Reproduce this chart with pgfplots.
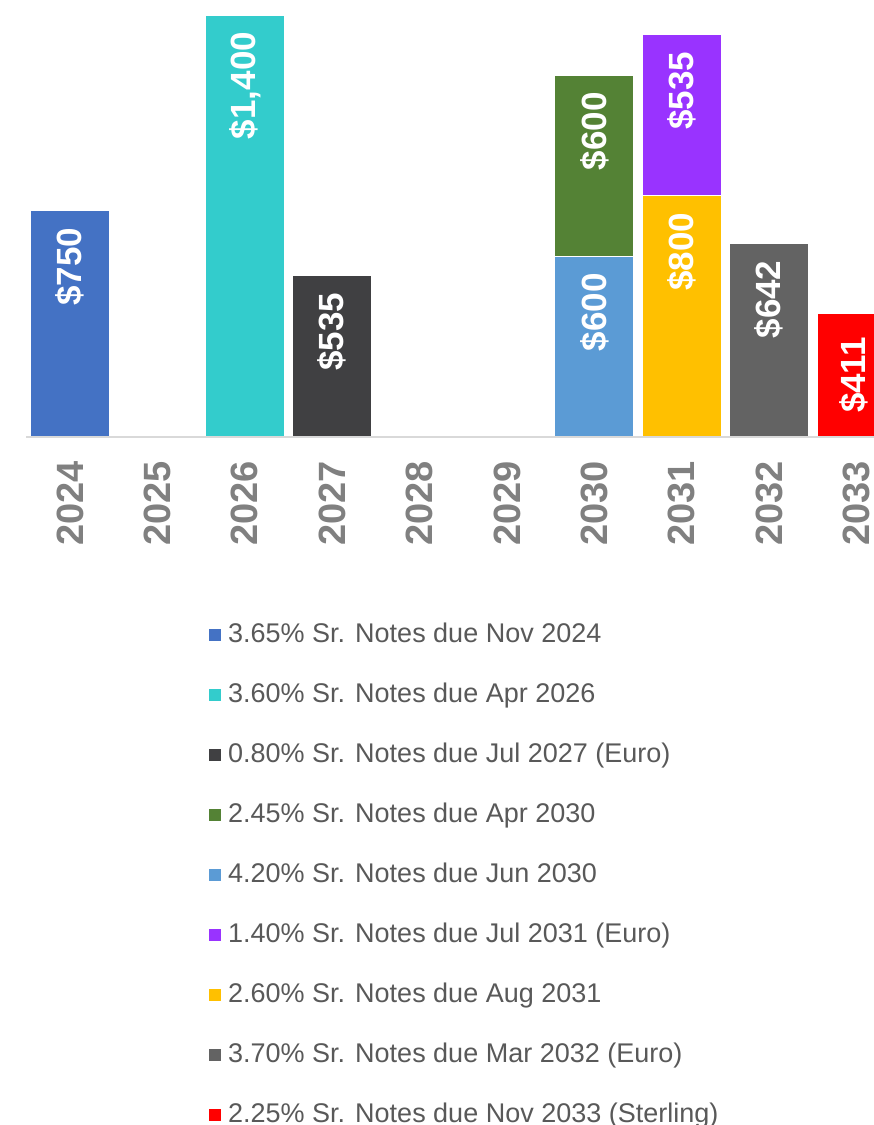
\documentclass[border=0pt]{standalone}
\usepackage{fontspec}
\setmainfont{Liberation Sans}
\usepackage{pgfplots}
\pgfplotsset{compat=1.18}
\definecolor{c1}{HTML}{4472C4}
\definecolor{c2}{HTML}{33CCCC}
\definecolor{c3}{HTML}{404042}
\definecolor{c4}{HTML}{548235}
\definecolor{c5}{HTML}{5B9BD5}
\definecolor{c6}{HTML}{9933FF}
\definecolor{c7}{HTML}{FFC000}
\definecolor{c8}{HTML}{636363}
\definecolor{c9}{HTML}{FF0000}
\definecolor{axisgray}{HTML}{D9D9D9}
\definecolor{tickgray}{HTML}{808080}
\definecolor{leggray}{HTML}{595959}
\begin{document}
\begin{tikzpicture}
\path[use as bounding box] (0,0) rectangle (874bp,1125bp);
\clip (0,0) rectangle (874bp,1125bp);
\fill[white] (0,0) rectangle (874bp,1125bp);
\begin{axis}[
  at={(26.3bp,688bp)}, anchor=south west, scale only axis,
  width=874bp, height=437bp,
  xmin=-0.5, xmax=9.5, ymin=0, ymax=1450,
  axis y line=none, axis x line*=bottom,
  x axis line style={draw=axisgray, line width=1.5bp, -},
  axis on top,
  xtick={0,1,2,3,4,5,6,7,8,9},
  xticklabels={2024,2025,2026,2027,2028,2029,2030,2031,2032,2033},
  major tick length=0pt,
  xticklabel style={rotate=90, anchor=east, inner sep=0pt, inner xsep=0pt, outer xsep=24bp,
    font=\bfseries\fontsize{38bp}{38bp}\selectfont, text=tickgray},
  ybar stacked, bar width=79bp,
  every axis plot/.append style={draw=white, line width=1bp},
  nodes near coords, point meta=explicit symbolic,
  every node near coord/.append style={rotate=90, anchor=east, inner sep=0pt, outer xsep=17bp,
    font=\bfseries\fontsize{35bp}{35bp}\selectfont, text=white},
  legend style={at={(0.2090,-0.4256)}, anchor=north west, draw=none, fill=none, inner sep=0pt,
    row sep=36bp, font=\fontsize{27bp}{27bp}\selectfont, text=leggray,
    nodes={inner sep=0pt, text height=19bp, text depth=5bp},
    /tikz/every odd column/.append style={column sep=7bp}},
  legend cell align=left,
  legend image code/.code={\fill[#1] (0bp,-6bp) rectangle (12bp,6bp);},
]
\addlegendimage{fill=c1, draw=none}\addlegendentry{3.65\% Sr. Notes due Nov 2024}
\addlegendimage{fill=c2, draw=none}\addlegendentry{3.60\% Sr. Notes due Apr 2026}
\addlegendimage{fill=c3, draw=none}\addlegendentry{0.80\% Sr. Notes due Jul 2027 (Euro)}
\addlegendimage{fill=c4, draw=none}\addlegendentry{2.45\% Sr. Notes due Apr 2030}
\addlegendimage{fill=c5, draw=none}\addlegendentry{4.20\% Sr. Notes due Jun 2030}
\addlegendimage{fill=c6, draw=none}\addlegendentry{1.40\% Sr. Notes due Jul 2031 (Euro)}
\addlegendimage{fill=c7, draw=none}\addlegendentry{2.60\% Sr. Notes due Aug 2031}
\addlegendimage{fill=c8, draw=none}\addlegendentry{3.70\% Sr. Notes due Mar 2032 (Euro)}
\addlegendimage{fill=c9, draw=none}\addlegendentry{2.25\% Sr. Notes due Nov 2033 (Sterling)}
% labels sit at the middle of each segment; shift them up by half the segment height
% 3.65% Nov 2024
\addplot[fill=c1, forget plot, every node near coord/.append style={xshift=113bp}] coordinates {(0,750)[\$750] (1,0)[] (2,0)[] (3,0)[] (4,0)[] (5,0)[] (6,0)[] (7,0)[] (8,0)[] (9,0)[]};
% 3.60% Apr 2026
\addplot[fill=c2, forget plot, every node near coord/.append style={xshift=211bp}] coordinates {(0,0)[] (1,0)[] (2,1400)[\$1,400] (3,0)[] (4,0)[] (5,0)[] (6,0)[] (7,0)[] (8,0)[] (9,0)[]};
% 0.80% Jul 2027
\addplot[fill=c3, forget plot, every node near coord/.append style={xshift=80.6bp}] coordinates {(0,0)[] (1,0)[] (2,0)[] (3,535)[\$535] (4,0)[] (5,0)[] (6,0)[] (7,0)[] (8,0)[] (9,0)[]};
% 4.20% Jun 2030 (bottom of 2030)
\addplot[fill=c5, forget plot, every node near coord/.append style={xshift=90.4bp}] coordinates {(0,0)[] (1,0)[] (2,0)[] (3,0)[] (4,0)[] (5,0)[] (6,600)[\$600] (7,0)[] (8,0)[] (9,0)[]};
% 2.45% Apr 2030 (top of 2030)
\addplot[fill=c4, forget plot, every node near coord/.append style={xshift=90.4bp}] coordinates {(0,0)[] (1,0)[] (2,0)[] (3,0)[] (4,0)[] (5,0)[] (6,600)[\$600] (7,0)[] (8,0)[] (9,0)[]};
% 2.60% Aug 2031 (bottom of 2031)
\addplot[fill=c7, forget plot, every node near coord/.append style={xshift=120.6bp}] coordinates {(0,0)[] (1,0)[] (2,0)[] (3,0)[] (4,0)[] (5,0)[] (6,0)[] (7,800)[\$800] (8,0)[] (9,0)[]};
% 1.40% Jul 2031 (top of 2031)
\addplot[fill=c6, forget plot, every node near coord/.append style={xshift=80.6bp}] coordinates {(0,0)[] (1,0)[] (2,0)[] (3,0)[] (4,0)[] (5,0)[] (6,0)[] (7,535)[\$535] (8,0)[] (9,0)[]};
% 3.70% Mar 2032
\addplot[fill=c8, forget plot, every node near coord/.append style={xshift=96.7bp}] coordinates {(0,0)[] (1,0)[] (2,0)[] (3,0)[] (4,0)[] (5,0)[] (6,0)[] (7,0)[] (8,642)[\$642] (9,0)[]};
% 2.25% Nov 2033
\addplot[fill=c9, forget plot, every node near coord/.append style={xshift=55bp, yshift=3bp}] coordinates {(0,0)[] (1,0)[] (2,0)[] (3,0)[] (4,0)[] (5,0)[] (6,0)[] (7,0)[] (8,0)[] (9,411)[\$411]};
\end{axis}
\end{tikzpicture}
\end{document}
